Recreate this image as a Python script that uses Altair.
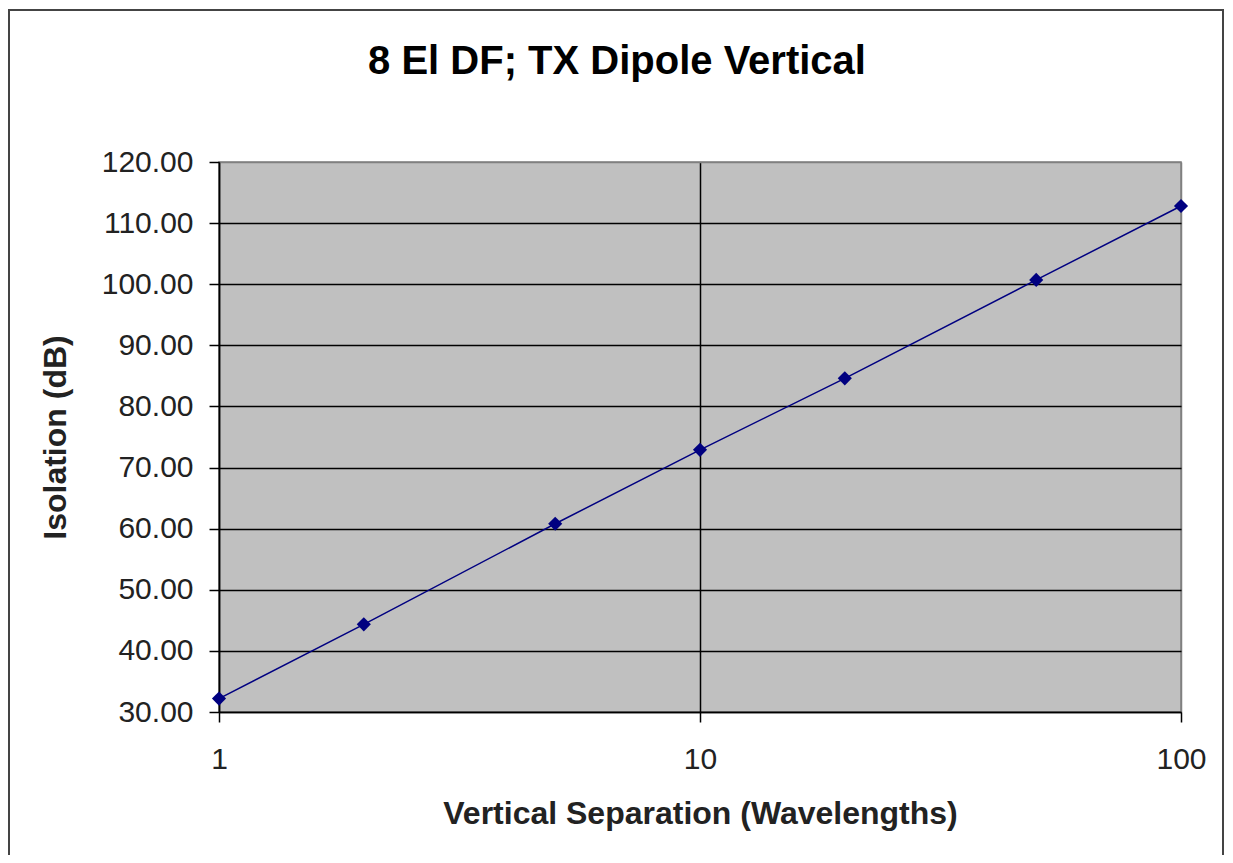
import altair as alt
import pandas as pd

separation = [1, 2, 5, 10, 20, 50, 100]
isolation = [32.2, 44.35, 60.8, 72.9, 84.6, 100.7, 112.8]
y_ticks = [30, 40, 50, 60, 70, 80, 90, 100, 110, 120]
x_ticks = [1, 10, 100]

df = pd.DataFrame({"sep": separation, "iso": isolation})

FONT = "Liberation Sans"

x_enc = alt.X(
    "sep:Q",
    scale=alt.Scale(type="log", domain=[1, 100], nice=False),
    axis=alt.Axis(
        values=x_ticks, format="d", title="Vertical Separation (Wavelengths)",
        grid=True,
        gridColor=alt.condition("datum.value == 100", alt.value("#808080"), alt.value("black")),
        gridWidth=1.5,
        domainColor="black", domainWidth=1.5,
        tickColor="black", tickSize=10, tickWidth=1.5,
        labelFont=FONT, labelFontSize=30, labelColor="#222222", labelPadding=22,
        labelFlush=False,
        titleFont=FONT, titleFontSize=32, titleFontWeight="bold", titleColor="#222222",
        titlePadding=24,
    ),
)
y_enc = alt.Y(
    "iso:Q",
    scale=alt.Scale(domain=[30, 120], nice=False, zero=False),
    axis=alt.Axis(
        values=y_ticks, format=".2f", title="Isolation (dB)",
        grid=True,
        gridColor=alt.condition("datum.value == 120", alt.value("#808080"), alt.value("black")),
        gridWidth=1.5,
        domainColor="black", domainWidth=1.5,
        tickColor="black", tickSize=10, tickWidth=1.5,
        labelFont=FONT, labelFontSize=30, labelColor="#222222", labelPadding=16,
        titleFont=FONT, titleFontSize=32, titleFontWeight="bold", titleColor="#222222",
        titlePadding=29,
    ),
)

border = alt.Chart(alt.Data(values=[{"a": 1}])).mark_rect(
    fill=None, stroke="#444444", strokeWidth=2, clip=False
).encode(
    x=alt.value(-210), x2=alt.value(1004),
    y=alt.value(-152), y2=alt.value(720),
)

line = alt.Chart(df).mark_line(color="#000080", strokeWidth=1.5).encode(x=x_enc, y=y_enc)
points = alt.Chart(df).mark_point(
    shape="diamond", filled=True, color="#000080", size=200, opacity=1
).encode(x=x_enc, y=y_enc)

chart = alt.layer(border, line, points).properties(
    width=962, height=550,
    title=alt.TitleParams(
        "8 El DF; TX Dipole Vertical", font=FONT, fontSize=40, fontWeight="bold",
        color="black", anchor="middle", offset=-73, dx=-83,
    ),
    autosize=alt.AutoSizeParams(type="none"),
    padding={"left": 211, "top": 154, "right": 44, "bottom": 143},
    background="white",
).configure_view(fill="#c0c0c0", stroke="#808080", strokeWidth=1.5)

chart.save("out.html", embed_options={"renderer": "svg", "actions": False})
